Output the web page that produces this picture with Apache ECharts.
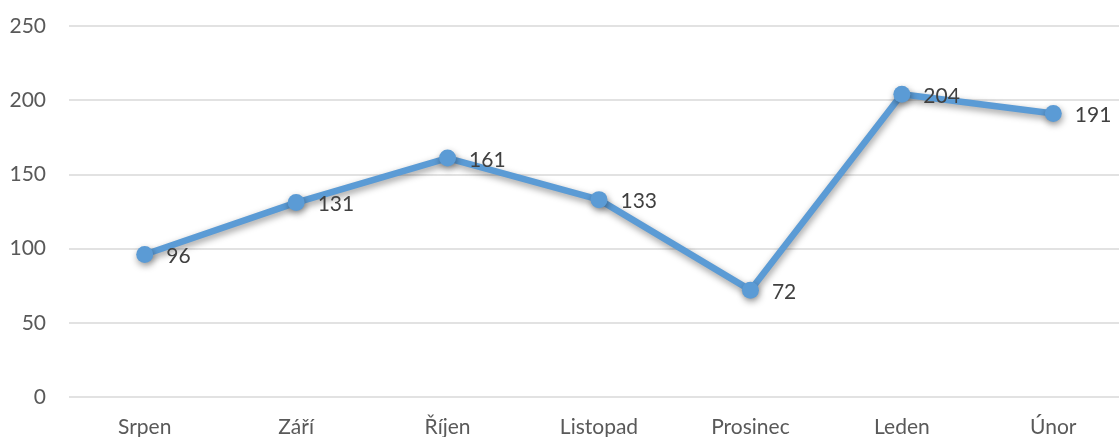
<!DOCTYPE html>
<html style="height: 100%">
  <head>
    <meta charset="utf-8">
  </head>
  <body style="height: 100%; margin: 0; background: #fff">
    <div id="container" style="width: 1119px; height: 437px"></div>
    <script type="text/javascript" src="https://cdn.jsdelivr.net/npm/echarts@6/dist/echarts.min.js"></script>
    <script type="text/javascript">
      // months Aug..Feb
      let months = ['Srpen', 'Září', 'Říjen', 'Listopad', 'Prosinec', 'Leden', 'Únor'];
      let counts = [96, 131, 161, 133, 72, 204, 191];
      let yTicks = [0, 50, 100, 150, 200, 250];

      let dom = document.getElementById('container');
      let myChart = echarts.init(dom);

      let fontFamily = 'Lato, "Noto Sans", sans-serif';

      let option = {
        animation: false,
        grid: {
          left: 69,
          top: 26,
          width: 1060,
          bottom: 40,
          outerBoundsMode: 'none',
          containLabel: false
        },
        xAxis: {
          type: 'category',
          data: months,
          boundaryGap: true,
          axisLine: { show: false },
          axisTick: { show: false },
          axisLabel: {
            color: '#595959',
            fontSize: 21,
            fontFamily: fontFamily,
            margin: 20
          }
        },
        yAxis: {
          type: 'value',
          min: yTicks[0],
          max: yTicks[yTicks.length - 1],
          interval: 50,
          axisLine: { show: false },
          axisTick: { show: false },
          axisLabel: {
            color: '#595959',
            fontSize: 21,
            fontFamily: fontFamily,
            margin: 23
          },
          splitLine: {
            lineStyle: { color: '#d9d9d9', width: 1.5 }
          }
        },
        series: [{
          type: 'line',
          data: counts,
          symbol: 'circle',
          symbolSize: 17,
          lineStyle: {
            color: '#5b9bd5',
            width: 6.5,
            shadowColor: 'rgba(0, 0, 0, 0.4)',
            shadowBlur: 7,
            shadowOffsetX: 1,
            shadowOffsetY: 3
          },
          itemStyle: {
            color: '#5b9bd5',
            shadowColor: 'rgba(0, 0, 0, 0.4)',
            shadowBlur: 7,
            shadowOffsetX: 1,
            shadowOffsetY: 3
          },
          label: {
            show: true,
            position: 'right',
            distance: 13,
            offset: [0, 2],
            color: '#404040',
            fontSize: 21,
            fontFamily: fontFamily
          }
        }]
      };

      myChart.setOption(option);
    </script>
  </body>
</html>
